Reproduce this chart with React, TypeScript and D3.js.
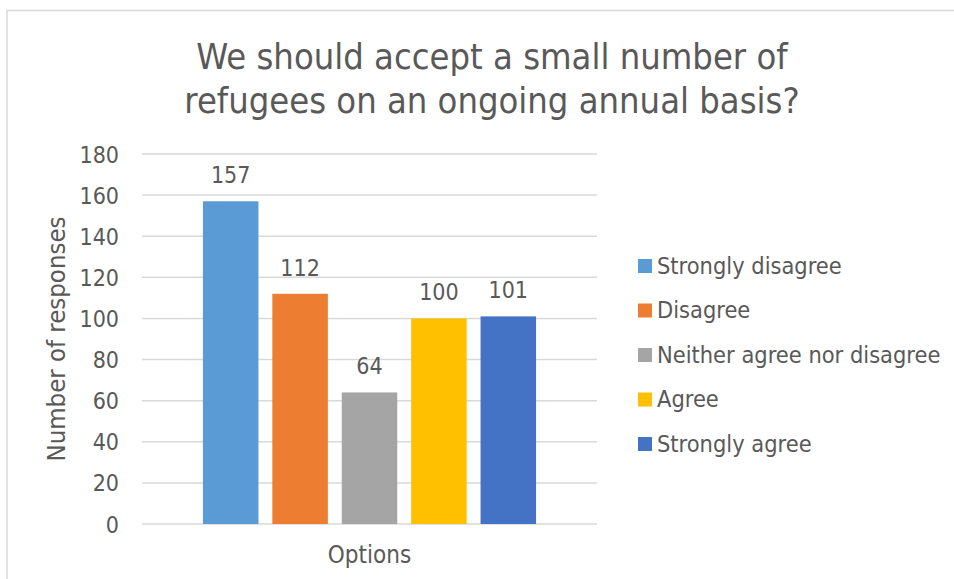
import React from "react";
import * as d3 from "d3";

const categories = ["Strongly disagree", "Disagree", "Neither agree nor disagree", "Agree", "Strongly agree"];
const values = [157, 112, 64, 100, 101];
const colors = ["#5B9BD5", "#ED7D31", "#A5A5A5", "#FFC000", "#4472C4"];
const yTicks = [0, 20, 40, 60, 80, 100, 120, 140, 160, 180];
const titleLines = ["We should accept a small number of", "refugees on an ongoing annual basis?"];
const xAxisTitle = "Options";
const yAxisTitle = "Number of responses";

const FONT = "'DejaVu Sans Condensed', 'DejaVu Sans', sans-serif";
const TXT = "#595959";

export default function App() {
  const W = 954, H = 579;
  const plot = { left: 142, right: 597, top: 154, bottom: 524 };
  const x = d3.scaleBand<string>().domain(categories).range([plot.left, plot.right]).paddingInner(0.2).paddingOuter(0.878);
  const y = d3.scaleLinear().domain([0, 180]).range([plot.bottom, plot.top]);
  const cx = (plot.left + plot.right) / 2;

  return (
    <svg width={W} height={H} style={{ position: "absolute", left: 0, top: 0, fontFamily: FONT, fontStretch: "condensed" }}>
      <rect x={0} y={0} width={W} height={H} fill="#fff" />
      <rect x={7} y={10.5} width={W + 20} height={H + 20} fill="none" stroke="#D9D9D9" strokeWidth={1.5} />
      {titleLines.map((t, i) => (
        <text key={i} x={492} y={69 + i * 44} textAnchor="middle" fontSize={36} fill={TXT}>{t}</text>
      ))}
      {yTicks.map((t) => (
        <g key={t}>
          <line x1={plot.left} x2={plot.right} y1={y(t)} y2={y(t)} stroke="#D9D9D9" strokeWidth={1.5} />
          <text x={119} y={y(t)} dy="0.37em" textAnchor="end" fontSize={23} fill={TXT}>{t}</text>
        </g>
      ))}
      {categories.map((c, i) => (
        <g key={c}>
          <rect x={x(c)} y={y(values[i])} width={x.bandwidth()} height={y(0) - y(values[i])} fill={colors[i]} />
          <text x={(x(c) as number) + x.bandwidth() / 2} y={y(values[i]) - 18} textAnchor="middle" fontSize={23} fill={TXT}>{values[i]}</text>
        </g>
      ))}
      <text x={cx} y={563} textAnchor="middle" fontSize={24} fill={TXT}>{xAxisTitle}</text>
      <text transform={`translate(65, ${(plot.top + plot.bottom) / 2}) rotate(-90)`} textAnchor="middle" fontSize={25.5} fill={TXT}>{yAxisTitle}</text>
      {categories.map((c, i) => (
        <g key={c} transform={`translate(638, ${259 + i * 44.5})`}>
          <rect x={0} y={0} width={14} height={14} fill={colors[i]} />
          <text x={19} y={14.5} fontSize={23.4} fill={TXT}>{c}</text>
        </g>
      ))}
    </svg>
  );
}
